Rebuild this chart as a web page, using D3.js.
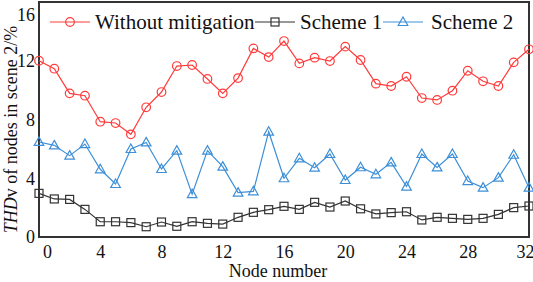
<!DOCTYPE html>
<html><head><meta charset="utf-8">
<script src="https://cdn.jsdelivr.net/npm/d3@7"></script>
<style>body{margin:0;background:#fff}svg{display:block}text{font-family:"Liberation Serif","Times New Roman",serif}</style>
</head><body><svg id="c" width="533" height="282"></svg>
<script>
const nodes = d3.range(0, 33);
const withoutMitigation = [12.0,11.46,9.78,9.62,7.85,7.76,6.99,8.83,9.87,11.64,11.71,10.76,9.78,10.82,12.84,12.25,13.34,11.82,12.21,11.98,12.96,12.05,10.44,10.28,10.91,9.46,9.33,9.96,11.32,10.6,10.28,11.89,12.78];
const scheme1 = [2.97,2.59,2.56,1.88,1.04,1.04,0.98,0.70,1.02,0.73,1.04,0.93,0.88,1.34,1.68,1.86,2.09,1.88,2.36,2.04,2.45,1.92,1.57,1.66,1.72,1.16,1.34,1.27,1.2,1.27,1.54,2.0,2.11];
const scheme2 = [6.47,6.24,5.54,6.33,4.61,3.61,5.99,6.44,4.63,5.88,2.92,5.88,4.79,3.02,3.11,7.17,4.0,5.36,4.72,5.65,3.88,4.75,4.27,5.08,3.43,5.65,4.74,5.65,3.81,3.36,4.04,5.6,3.36];
const xTicks = [0,4,8,12,16,20,24,28,32];
const yTicks = [0,4,8,12,16];
const seriesNames = ["Without mitigation","Scheme 1","Scheme 2"];

const svg = d3.select("#c");
const L=39, R=529, T=2, B=237;
const x = d3.scaleLinear().domain([0,32]).range([L,R]);
const y = d3.scaleLinear().domain([0,16]).range([B,T]);

// axes (no tick marks)
const xa = svg.append("g").attr("transform",`translate(0,${B})`)
  .call(d3.axisBottom(x).tickValues(xTicks).tickSize(0).tickPadding(8).tickFormat(d3.format("d")));
xa.select(".domain").remove();
xa.selectAll("text").attr("font-size",18).attr("fill","#111").attr("font-family","Liberation Serif")
  .attr("dx", d => d===0 ? 8 : (d===32 ? -4 : 0));
const ya = svg.append("g").attr("transform",`translate(${L},0)`)
  .call(d3.axisLeft(y).tickValues(yTicks).tickSize(0).tickPadding(4).tickFormat(d3.format("d")));
ya.select(".domain").remove();
ya.selectAll("text").attr("font-size",18).attr("fill","#111").attr("font-family","Liberation Serif")
  .attr("dy", d => d===16 ? "1.0em" : "0.32em");

// frame
svg.append("rect").attr("x",L).attr("y",T).attr("width",R-L).attr("height",B-T)
  .attr("fill","none").attr("stroke","#333").attr("stroke-width",2);

const cols = ["#ff3b3b","#333333","#3d8fd8"];
const line = d3.line().x((d,i)=>x(nodes[i])).y(d=>y(d));
const data = [withoutMitigation, scheme1, scheme2];

function marker(g, k, cx, cy){
  if(k===0) g.append("circle").attr("cx",cx).attr("cy",cy).attr("r",4.3)
      .attr("fill","none").attr("stroke",cols[k]).attr("stroke-width",1.2);
  else if(k===1) g.append("rect").attr("x",cx-4).attr("y",cy-4).attr("width",8).attr("height",8)
      .attr("fill","none").attr("stroke",cols[k]).attr("stroke-width",1.2);
  else g.append("path").attr("d",`M${cx},${cy-5}L${cx+4.8},${cy+3.5}L${cx-4.8},${cy+3.5}Z`)
      .attr("fill","none").attr("stroke",cols[k]).attr("stroke-width",1.2);
}

data.forEach((vals,k)=>{
  const g = svg.append("g");
  g.append("path").attr("d",line(vals)).attr("fill","none").attr("stroke",cols[k]).attr("stroke-width",1.2);
  vals.forEach((v,i)=>marker(g,k,x(nodes[i]),y(v)));
});

// legend
const leg = [{x1:50,x2:90,tx:95},{x1:255,x2:295,tx:300},{x1:383,x2:423,tx:431}];
leg.forEach((l,k)=>{
  const g = svg.append("g");
  g.append("line").attr("x1",l.x1).attr("x2",l.x2).attr("y1",22).attr("y2",22).attr("stroke",cols[k]).attr("stroke-width",1.2);
  marker(g,k,(l.x1+l.x2)/2,22);
  g.append("text").attr("x",l.tx).attr("y",29).attr("font-size",21).attr("fill","#111").text(seriesNames[k]);
});

// axis titles
svg.append("text").attr("x",278).attr("y",277).attr("text-anchor","middle").attr("font-size",18).attr("fill","#111").text("Node number");
const yt = svg.append("text").attr("transform",`translate(17,${(T+B)/2+10}) rotate(-90)`).attr("text-anchor","middle").attr("font-size",18).attr("fill","#111");
yt.append("tspan").attr("font-style","italic").text("THD");
yt.append("tspan").text("v of nodes in scene 2/%");
</script></body></html>
